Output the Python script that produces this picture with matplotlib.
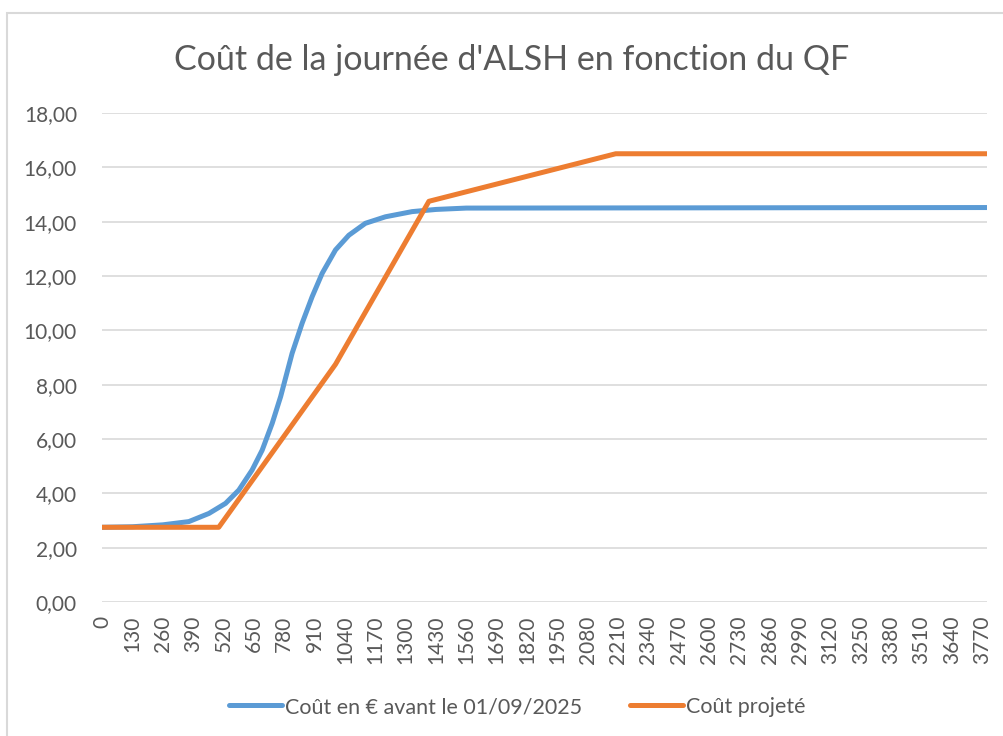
import numpy as np
import matplotlib
matplotlib.use("Agg")
import matplotlib.pyplot as plt
from matplotlib.patches import Rectangle

plt.rcParams['font.family'] = ['Lato', 'DejaVu Sans']

# données
qf_avant = [0, 130, 260, 372, 458, 529, 586, 643, 686, 729, 765, 814, 857,
            900, 943, 1000, 1057, 1128, 1214, 1328, 1430, 1560, 3790]
cout_avant = [2.75, 2.77, 2.84, 2.96, 3.26, 3.63, 4.12, 4.86, 5.59, 6.58, 7.56,
              9.15, 10.26, 11.24, 12.10, 12.96, 13.50, 13.94, 14.18, 14.37,
              14.45, 14.50, 14.52]

qf_projete = [0, 500, 1000, 1400, 2200, 3790]
cout_projete = [2.75, 2.75, 8.75, 14.75, 16.5, 16.5]

xticks = list(range(0, 3771, 130))
yticks = [0, 2, 4, 6, 8, 10, 12, 14, 16, 18]

gris = '#595959'

fig = plt.figure(figsize=(10.04, 7.36), dpi=100)
# cadre du graphique
fig.patches.append(Rectangle((7 / 1004, -0.1), 1.2, 1 - 13 / 736 + 0.1,
                             transform=fig.transFigure, fill=False,
                             edgecolor='#d9d9d9', linewidth=1.5))

ax = fig.add_axes([102 / 1004, 1 - 602 / 736, 885 / 1004, 489 / 736])
ax.plot(qf_avant, cout_avant, color='#5B9BD5', linewidth=3.6,
        solid_capstyle='round', solid_joinstyle='round',
        label='Coût en € avant le 01/09/2025')
ax.plot(qf_projete, cout_projete, color='#ED7D31', linewidth=3.6,
        solid_capstyle='round', label='Coût projeté')

ax.set_xlim(0, 3790)
ax.set_ylim(0, 18)
ax.set_yticks(yticks)
ax.yaxis.set_major_formatter(matplotlib.ticker.FuncFormatter(
    lambda v, p: ('%.2f' % v).replace('.', ',')))
ax.set_xticks(xticks)
ax.set_xticklabels([str(v) for v in xticks], rotation=90)
ax.tick_params(axis='both', length=0, colors=gris, labelsize=15)
ax.tick_params(axis='y', pad=18)
ax.tick_params(axis='x', pad=10)

ax.grid(axis='y', color='#d9d9d9', linewidth=1.2)
ax.set_axisbelow(True)
for s in ax.spines.values():
    s.set_visible(False)

fig.text(512 / 1004, 1 - 60 / 736, "Coût de la journée d'ALSH en fonction du QF",
         ha='center', va='center', fontsize=24.5, color=gris)

leg = fig.legend(loc='center', bbox_to_anchor=(0.515, 1 - 707 / 736), ncol=2,
                 frameon=False, fontsize=15.5, handlelength=2.5,
                 handletextpad=0.12, columnspacing=2.2)
for t in leg.get_texts():
    t.set_color(gris)

fig.savefig('out.png', dpi=100)
